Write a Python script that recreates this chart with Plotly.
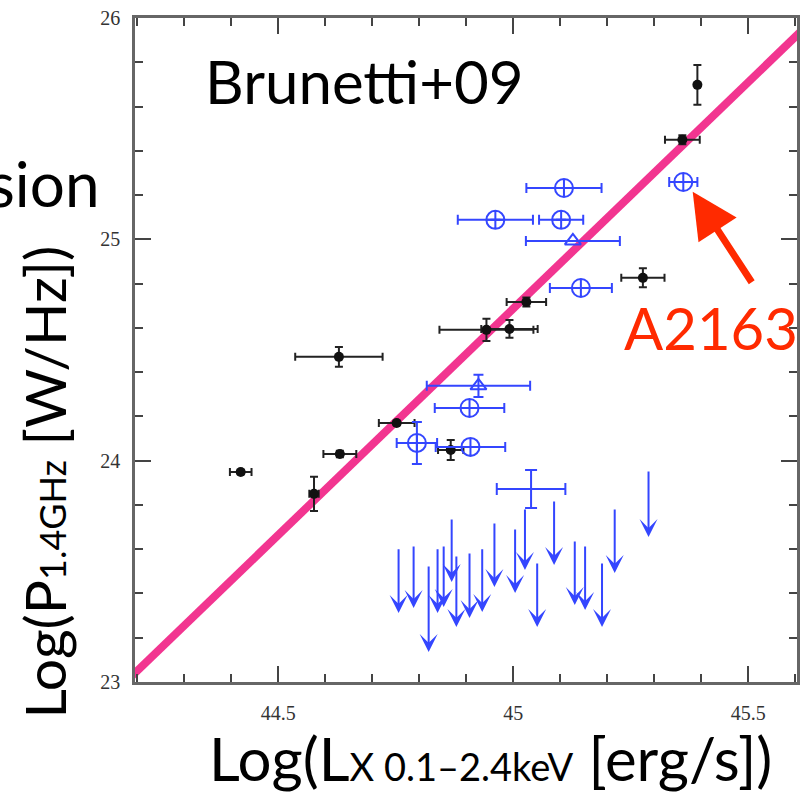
import plotly.graph_objects as go

# ---- data ----
# black filled points (detections)
blk_x = [45.392, 45.360, 45.276, 45.028, 44.992, 44.943, 44.629, 44.752, 44.631, 44.420, 44.576, 44.867]
blk_y = [25.698, 25.450, 24.826, 24.717, 24.595, 24.591, 24.469, 24.170, 24.030, 23.949, 23.850, 24.048]
blk_xerr = [0.0, 0.037, 0.046, 0.042, 0.06, 0.10, 0.093, 0.038, 0.035, 0.023, 0.01, 0.027]
blk_yerr = [0.09, 0.02, 0.043, 0.02, 0.04, 0.05, 0.045, 0.01, 0.015, 0.01, 0.077, 0.045]

# blue open circles with cross
bc_x = [45.108, 44.962, 45.102, 45.362, 45.144, 44.907, 44.795, 44.909]
bc_y = [25.232, 25.088, 25.088, 25.259, 24.780, 24.238, 24.080, 24.062]
bc_xerr = [0.08, 0.08, 0.047, 0.03, 0.066, 0.074, 0.043, 0.074]
bc_yerr = [0.0, 0.0, 0.0, 0.0, 0.0, 0.0, 0.095, 0.0]

# blue open triangles
bt_x = [45.127, 44.926]
bt_y = [24.993, 24.338]
bt_xerr = [0.10, 0.11]
bt_yerr = [0.0, 0.05]

# blue cross without marker
bx_x = [45.038]
bx_y = [23.872]
bx_xerr = [0.073]
bx_yerr = [0.086]

# blue upper limits (x, top value, arrow tip)
ul_x = [44.756, 44.788, 44.820, 44.839, 44.852, 44.869, 44.879, 44.907, 44.934, 44.960,
        45.004, 45.025, 45.051, 45.087, 45.131, 45.153, 45.189, 45.216, 45.288]
ul_top = [23.606, 23.619, 23.529, 23.606, 23.619, 23.741, 23.574, 23.587, 23.606, 23.723,
          23.696, 23.786, 23.542, 23.822, 23.642, 23.619, 23.542, 23.786, 23.958]
ul_tip = [23.312, 23.334, 23.136, 23.312, 23.339, 23.452, 23.249, 23.289, 23.316, 23.429,
          23.402, 23.506, 23.249, 23.529, 23.348, 23.325, 23.249, 23.493, 23.655]

# correlation line endpoints
line_x = [44.185, 45.615]
line_y = [23.02, 25.945]

# A2163 position
a2163_x = 45.382
a2163_y = 25.215

x_range = [44.195, 45.604]
y_range = [23.0, 26.0]

BLUE = "#3446ff"
BLACK = "#111111"
PINK = "#f23590"
RED = "#ff2a00"
BIGFONT = "Lato"

fig = go.Figure()

fig.add_trace(go.Scatter(
    x=line_x, y=line_y, mode="lines",
    line=dict(color=PINK, width=8), hoverinfo="skip", showlegend=False))

fig.add_trace(go.Scatter(
    x=blk_x, y=blk_y, mode="markers",
    marker=dict(symbol="circle", size=10, color=BLACK),
    error_x=dict(type="data", array=blk_xerr, color="#222", thickness=2, width=4),
    error_y=dict(type="data", array=blk_yerr, color="#222", thickness=2, width=4),
    showlegend=False))

fig.add_trace(go.Scatter(
    x=bc_x, y=bc_y, mode="markers",
    marker=dict(symbol="circle-cross-open", size=18, color=BLUE, line=dict(width=2, color=BLUE)),
    error_x=dict(type="data", array=bc_xerr, color=BLUE, thickness=2, width=5),
    error_y=dict(type="data", array=bc_yerr, color=BLUE, thickness=2, width=5),
    showlegend=False))

fig.add_trace(go.Scatter(
    x=bt_x, y=bt_y, mode="markers",
    marker=dict(symbol="triangle-up-open", size=14, color=BLUE, line=dict(width=2, color=BLUE)),
    error_x=dict(type="data", array=bt_xerr, color=BLUE, thickness=2, width=5),
    error_y=dict(type="data", array=bt_yerr, color=BLUE, thickness=2, width=5),
    showlegend=False))

fig.add_trace(go.Scatter(
    x=bx_x, y=bx_y, mode="markers",
    marker=dict(symbol="circle", size=1, color="rgba(0,0,0,0)"),
    error_x=dict(type="data", array=bx_xerr, color=BLUE, thickness=2, width=6),
    error_y=dict(type="data", array=bx_yerr, color=BLUE, thickness=2, width=6),
    showlegend=False))

annotations = []
for xv, yt, yb in zip(ul_x, ul_top, ul_tip):
    annotations.append(dict(
        x=xv, y=yb, ax=xv, ay=yt, xref="x", yref="y", axref="x", ayref="y",
        text="", showarrow=True, arrowhead=3, arrowsize=1.5, arrowwidth=2,
        arrowcolor=BLUE))

# A2163 arrow and label
annotations.append(dict(
    x=a2163_x, y=a2163_y, xref="x", yref="y", ax=60, ay=92,
    text="", showarrow=True, arrowhead=2, arrowsize=1.3, arrowwidth=7,
    arrowcolor=RED))
annotations.append(dict(
    x=1.0, y=(682 - 327) / 664, xref="paper", yref="paper", xanchor="right", yanchor="middle",
    xshift=3, text="A2163", showarrow=False, font=dict(family=BIGFONT, size=58, color=RED)))
annotations.append(dict(
    x=(203 - 135) / 665, y=(682 - 81) / 664, xref="paper", yref="paper", xanchor="left", yanchor="middle",
    text="Brunetti+09", showarrow=False, font=dict(family=BIGFONT, size=60, color="black")))
annotations.append(dict(
    x=(101 - 135) / 665, y=(682 - 183) / 664, xref="paper", yref="paper", xanchor="right", yanchor="middle",
    text="sion", showarrow=False, font=dict(family=BIGFONT, size=62, color="black")))
# axis titles
annotations.append(dict(
    x=(44 - 135) / 665, y=(682 - 482) / 664, xref="paper", yref="paper", xanchor="center", yanchor="middle",
    text="Log(P<span style='font-size:36px'>1.4GHz</span> [W/Hz])", textangle=-90, showarrow=False,
    font=dict(family=BIGFONT, size=57, color="black")))
annotations.append(dict(
    x=(492 - 135) / 665, y=(682 - 758) / 664, xref="paper", yref="paper", xanchor="center", yanchor="middle",
    text="Log(L<span style='font-size:38px'>X 0.1\u20132.4keV</span> [erg/s])", showarrow=False,
    font=dict(family=BIGFONT, size=60, color="black")))

axis_common = dict(
    showline=True, linecolor="#666", linewidth=2.5, mirror="allticks",
    ticks="inside", tickcolor="#444", tickwidth=2, ticklen=16,
    showgrid=False, zeroline=False,
    tickfont=dict(family="Liberation Serif", size=20, color="#333"),
)

fig.update_layout(
    width=805, height=793,
    margin=dict(l=135, r=5, t=18, b=111),
    paper_bgcolor="white", plot_bgcolor="white",
    xaxis=dict(range=x_range, dtick=0.5, tick0=44.5, ticklabelstandoff=11,
               minor=dict(ticks="inside", ticklen=8, dtick=0.1, tick0=44.5, tickcolor="#444", tickwidth=2, showgrid=False),
               **axis_common),
    yaxis=dict(range=y_range, dtick=1, tick0=23, ticklabelstandoff=8,
               minor=dict(ticks="inside", ticklen=8, dtick=0.2, tick0=23, tickcolor="#444", tickwidth=2, showgrid=False),
               **axis_common),
    annotations=annotations,
    showlegend=False,
)

fig.write_html("out.html")
